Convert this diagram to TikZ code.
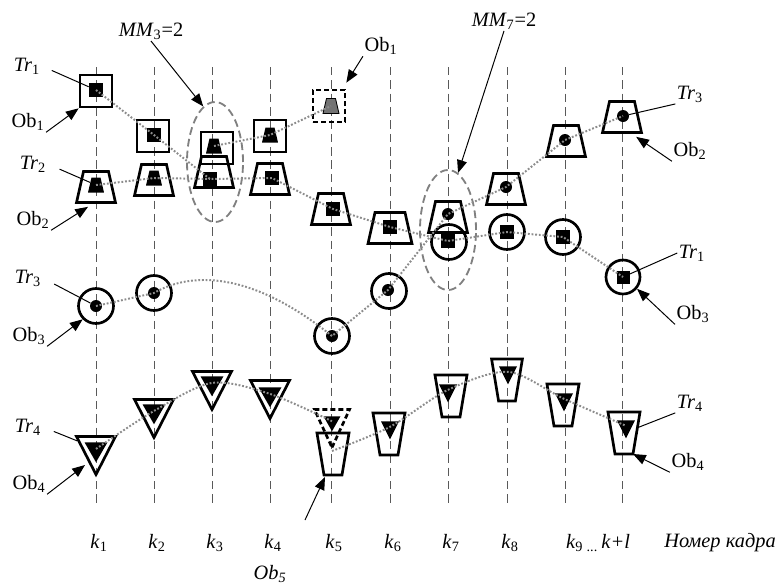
\documentclass[tikz,border=0pt]{standalone}
\usepackage{fontspec}
\setmainfont{Liberation Serif}
\usetikzlibrary{shapes.geometric,arrows.meta}

\tikzset{
  kline/.style={draw=black!65, line width=0.5pt, dash pattern=on 6pt off 3.5pt},
  trackline/.style={draw=black!45, line width=1.4pt, dash pattern=on 1.3pt off 1.3pt},
  gateoval/.style={ellipse, draw=black!50, line width=1.3pt, dash pattern=on 5.5pt off 3pt,
    minimum width=14mm, minimum height=30mm, inner sep=0},
  objline/.style={draw, line width=1.9pt, inner sep=0},
  lostline/.style={dash pattern=on 1.25mm off 0.75mm},
  sqbox/.style={objline, rectangle, minimum size=8mm},
  cibox/.style={objline, circle, minimum size=8.75mm},
  tpbox/.style={objline, trapezium, trapezium left angle=77.3, trapezium right angle=77.3,
    inner xsep=3.125mm, inner ysep=3.875mm},
  ivbox/.style={objline, trapezium, trapezium left angle=80.5, trapezium right angle=80.5,
    shape border rotate=180, inner xsep=2.25mm, inner ysep=5.25mm},
  tgbox/.style={objline, isosceles triangle, isosceles triangle stretches, shape border rotate=270,
    minimum width=9.75mm, minimum height=9.5mm, anchor=apex},
  blob/.style={fill=black, inner sep=0},
  sqmark/.style={blob, rectangle, minimum size=3.5mm},
  cimark/.style={blob, circle, minimum size=3mm},
  tpmark/.style={blob, trapezium, trapezium left angle=76.9, trapezium right angle=76.9,
    inner xsep=1.125mm, inner ysep=1.875mm},
  tgmark/.style={blob, isosceles triangle, isosceles triangle stretches, shape border rotate=270,
    minimum width=5.75mm, minimum height=5mm, anchor=apex},
  lbl/.style={inner sep=1pt, font=\fontsize{14.5}{17}\selectfont},
  leadline/.style={line width=0.7pt},
  pointer/.style={line width=0.7pt, -{Triangle[length=3.2mm,width=2.5mm]}},
}

\begin{document}
\begin{tikzpicture}[x=0.25mm, y=-0.25mm]
  \useasboundingbox (0,0) rectangle (784,585);

  % frame lines and numbers
  \foreach \x/\i in {96/1,154/2,212/3,270/4,331/5,390/6,448/7,507/8} {
    \draw[kline] (\x,67) -- (\x,506);
    \node[lbl] (k\i) at (\x+3,543) {\textit{k}\textsubscript{\i}};
  }
  \foreach \x in {565,622}
    \draw[kline] (\x,67) -- (\x,506);
  \node[lbl] (k9) at (598,543) {\textit{k}\textsubscript{9}\,\textsubscript{...}\,\textit{k+l}};
  \node[lbl] (frameno) at (720,543) {\textit{Номер кадра}};

  % gates
  \node[gateoval] (g3) at (215,162) {};
  \node[gateoval] (g7) at (448,230) {};

  % objects: squares
  \node[sqbox] (sq1) at (96,91) {};
  \node[sqbox] (sq2) at (153,136) {};
  \node[sqbox] (sq3) at (217,148) {};
  \node[sqbox] (sq4) at (270,136) {};
  \node[sqbox, lostline] (sq5) at (329,106) {};
  % objects: trapezia
  \node[tpbox] (tp1) at (96,187) {};
  \node[tpbox] (tp2) at (154,180) {};
  \node[tpbox] (tp3) at (214,172) {};
  \node[tpbox] (tp4) at (270,179) {};
  \node[tpbox] (tp5) at (331,209) {};
  \node[tpbox, inner xsep=3.75mm] (tp6) at (390,228) {};
  \node[tpbox] (tp7) at (448,217) {};
  \node[tpbox] (tp8) at (506,189) {};
  \node[tpbox] (tp9) at (566,141) {};
  \node[tpbox] (tp10) at (622,117) {};
  % objects: circles
  \node[cibox] (ci1) at (96,306) {};
  \node[cibox] (ci2) at (154,293) {};
  \node[cibox] (ci5) at (332,336) {};
  \node[cibox] (ci6) at (389,291) {};
  \node[cibox] (ci7) at (449,242) {};
  \node[cibox] (ci8) at (507,232) {};
  \node[cibox] (ci9) at (563,237) {};
  \node[cibox, minimum size=8.5mm] (ci10) at (623,277) {};
  % objects: triangles
  \node[tgbox] (tg1) at (96,478) {};
  \node[tgbox] (tg2) at (154,441) {};
  \node[tgbox] (tg3) at (212,413) {};
  \node[tgbox] (tg4) at (270,422) {};
  \node[tgbox, lostline, minimum width=8.75mm] (tg5) at (332,451) {};
  % objects: inverted trapezia
  \node[ivbox] (iv5) at (333,454) {};
  \node[ivbox] (iv6) at (389,434) {};
  \node[ivbox] (iv7) at (451,396) {};
  \node[ivbox, inner xsep=2.1mm] (iv8) at (507,380) {};
  \node[ivbox] (iv9) at (563,405) {};
  \node[ivbox] (iv10) at (624,433) {};

  % marks of Tr1
  \node[sqmark] (s1) at (96,90) {};
  \node[sqmark] (s2) at (154,135) {};
  \node[sqmark] (s3) at (210,179) {};
  \node[sqmark] (s4) at (272,178) {};
  \node[sqmark] (s5) at (333,209) {};
  \node[sqmark] (s6) at (390,227) {};
  \node[sqmark] (s7) at (448,241) {};
  \node[sqmark] (s8) at (507,232) {};
  \node[sqmark] (s9) at (563,237) {};
  \node[sqmark, minimum size=3.25mm] (s10) at (623,277) {};
  % marks of Tr2
  \node[tpmark] (t1) at (96,185) {};
  \node[tpmark] (t2) at (154,178) {};
  \node[tpmark] (t3) at (214,146) {};
  \node[tpmark] (t4) at (270,135) {};
  \node[tpmark, fill=black!55, draw=black, line width=0.6pt] (t5) at (331,106) {};
  % marks of Tr3
  \node[cimark] (c1) at (96,306) {};
  \node[cimark] (c2) at (154,293) {};
  \node[cimark] (c5) at (332,336) {};
  \node[cimark] (c6) at (388,290) {};
  \node[cimark] (c7) at (448,214) {};
  \node[cimark] (c8) at (506,187) {};
  \node[cimark] (c9) at (565,140) {};
  \node[cimark] (c10) at (623,116) {};
  % marks of Tr4
  \node[tgmark] (v1) at (96,463) {};
  \node[tgmark] (v2) at (154,425) {};
  \node[tgmark] (v3) at (212,397) {};
  \node[tgmark] (v4) at (270,408) {};
  \node[tgmark, minimum width=4.25mm, minimum height=3.75mm] (v5) at (332,432) {};
  \node[tgmark, minimum width=4.5mm, minimum height=4.5mm] (v6) at (390,440) {};
  \node[tgmark, minimum width=4.5mm, minimum height=4.5mm] (v7) at (448,403) {};
  \node[tgmark, minimum width=4.5mm, minimum height=4.5mm] (v8) at (508,385) {};
  \node[tgmark, minimum width=4.5mm, minimum height=4.5mm] (v9) at (564,412) {};
  \node[tgmark, minimum width=4.5mm, minimum height=4.5mm] (v10) at (626,439) {};

  % tracks
  \draw[trackline] (s1.center) -- (s2.center) -- (s3.center) -- (s4.center) -- (s5.center)
    -- (s6.center) -- (s7.center) -- (s8.center) -- (s9.center) -- (s10.center);
  \draw[trackline] (t1.center) -- (t2.center) -- (s3.center);
  \draw[trackline] (t3.center) -- (t4.center) -- (t5.center);
  \draw[trackline] (c1.center) -- (c2.center) .. controls (190,272) and (250,270) .. (c5.center)
    -- (c6.center) -- (c7.center) -- (c8.center) -- (c9.center) -- (c10.center);
  \draw[trackline] plot[smooth] coordinates {(v1.center) (v2.center) (v3.center) (v4.center) (v5.center)};
  \draw[trackline] plot[smooth] coordinates {(tg5.apex) (v6.center) (v7.center) (v8.center) (v9.center) (v10.center)};

  % labels
  \node[lbl] (lTr1) at (27,66) {\textit{Tr}\textsubscript{1}};
  \node[lbl] (lOb1) at (28,122) {Ob\textsubscript{1}};
  \node[lbl] (lTr2) at (33,164) {\textit{Tr}\textsubscript{2}};
  \node[lbl] (lOb2) at (33,220) {Ob\textsubscript{2}};
  \node[lbl] (lTr3) at (28,278) {\textit{Tr}\textsubscript{3}};
  \node[lbl] (lOb3) at (29,336) {Ob\textsubscript{3}};
  \node[lbl] (lTr4) at (28,427) {\textit{Tr}\textsubscript{4}};
  \node[lbl] (lOb4) at (29,484) {Ob\textsubscript{4}};
  \node[lbl] (lMM3) at (151,31) {\textit{MM}\textsubscript{3}=2};
  \node[lbl] (lOb1t) at (381,46) {Ob\textsubscript{1}};
  \node[lbl] (lMM7) at (504,21) {\textit{MM}\textsubscript{7}=2};
  \node[lbl] (lTr3r) at (690,94) {\textit{Tr}\textsubscript{3}};
  \node[lbl] (lOb2r) at (690,151) {Ob\textsubscript{2}};
  \node[lbl] (lTr1r) at (692,253) {\textit{Tr}\textsubscript{1}};
  \node[lbl] (lOb3r) at (693,314) {Ob\textsubscript{3}};
  \node[lbl] (lTr4r) at (690,403) {\textit{Tr}\textsubscript{4}};
  \node[lbl] (lOb4r) at (688,462) {Ob\textsubscript{4}};
  \node[lbl] (lOb5) at (270,574) {\textit{Ob\textsubscript{5}}};
  \coordinate (ob5tail) at (305,520);

  % pointers
  \draw[leadline, shorten <=2.75mm] (lTr1.east) -- (s1);
  \draw[pointer] (lOb1.south east) -- (sq1.south west);
  \draw[leadline, shorten <=3.25mm] (lTr2.east) -- (t1);
  \draw[pointer] (lOb2.south east) -- ([xshift=-2mm,yshift=-0.75mm]tp1.south);
  \draw[leadline, shorten <=3.25mm] (lTr3.east) -- (c1);
  \draw[pointer] (lOb3.south east) -- (ci1.225);
  \draw[leadline, shorten <=3mm] (lTr4.east) -- (tg1);
  \draw[pointer] (lOb4.south east) -- ([xshift=-2.75mm,yshift=3.25mm]tg1.apex);
  \draw[pointer] (lMM3.south) -- (g3.102);
  \draw[pointer] (lOb1t.south west) -- ([yshift=1.5mm]sq5.north east);
  \draw[pointer] (lMM7.south) -- (g7.80);
  \draw[leadline] (lTr3r.south west) -- (c10);
  \draw[pointer] (lOb2r.south west) -- ([xshift=-1.75mm,yshift=-0.75mm]tp10.bottom right corner);
  \draw[leadline] (lTr1r.west) -- (s10);
  \draw[pointer] (lOb3r.south west) -- (ci10.-40);
  \draw[leadline] (lTr4r.south west) -- (iv10);
  \draw[pointer] (lOb4r.south west) -- ([xshift=2.25mm,yshift=-5.25mm]iv10.center);
  \draw[pointer] (ob5tail) -- ([xshift=-2mm,yshift=-5.75mm]iv5.center);
\end{tikzpicture}
\end{document}
